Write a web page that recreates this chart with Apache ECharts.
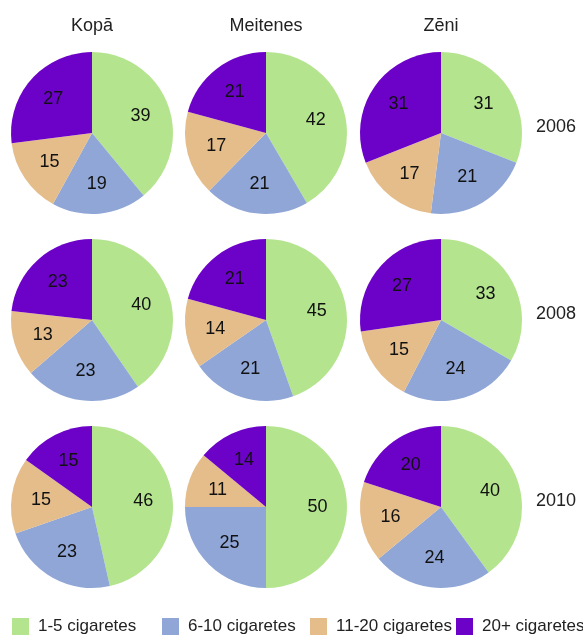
<!DOCTYPE html>
<html>
<head>
<meta charset="utf-8">
<script src="https://cdn.jsdelivr.net/npm/echarts@6/dist/echarts.min.js"></script>
<style>
html, body { margin: 0; padding: 0; background: #fff; }
#main { width: 583px; height: 637px; }
</style>
</head>
<body>
<div id="main"></div>
<script>
var groups = ['Kopā', 'Meitenes', 'Zēni'];
var years = ['2006', '2008', '2010'];
var categories = ['1-5 cigaretes', '6-10 cigaretes', '11-20 cigaretes', '20+ cigaretes'];

// values per group, one row per year, in category order
var kopa     = [[39, 19, 15, 27], [40, 23, 13, 23], [46, 23, 15, 15]];
var meitenes = [[42, 21, 17, 21], [45, 21, 14, 21], [50, 25, 11, 14]];
var zeni     = [[31, 21, 17, 31], [33, 24, 15, 27], [40, 24, 16, 20]];

var values = [kopa, meitenes, zeni];
var colors = ['#b4e48e', '#8fa6d6', '#e4bd8b', '#6c02c8'];

var FONT = '"Liberation Sans", Arial, sans-serif';
var FS = 18;
var colX = [92, 266, 441];
var rowY = [133, 320, 507];
var R = 81;

var chart = echarts.init(document.getElementById('main'));

var series = [];
var titles = [];

for (var g = 0; g < groups.length; g++) {
    titles.push({
        text: groups[g], left: colX[g], top: 17, padding: 0, textAlign: 'center',
        textStyle: { fontFamily: FONT, fontSize: FS, fontWeight: 'normal', color: '#222' }
    });
    for (var y = 0; y < years.length; y++) {
        var d = [];
        for (var c = 0; c < categories.length; c++) {
            d.push({ name: categories[c], value: values[g][y][c] });
        }
        // the slices
        series.push({
            type: 'pie', silent: true, animation: false,
            center: [colX[g], rowY[y]], radius: R,
            startAngle: 90, clockwise: true,
            label: { show: false }, labelLine: { show: false },
            itemStyle: { borderWidth: 0 },
            data: d
        });
        // labels only, ring pushes text further out
        series.push({
            type: 'pie', silent: true, animation: false, legendHoverLink: false,
            center: [colX[g], rowY[y]], radius: [16, R],
            startAngle: 90, clockwise: true,
            itemStyle: { color: 'rgba(0,0,0,0)', borderWidth: 0 },
            label: {
                show: true, position: 'inside', color: '#111',
                fontFamily: FONT, fontSize: FS, formatter: '{c}'
            },
            labelLine: { show: false },
            data: d.map(function (o) { return { name: o.name + ' ', value: o.value }; })
        });
    }
}

for (var y = 0; y < years.length; y++) {
    titles.push({
        text: years[y], left: 536, top: rowY[y] - 15, padding: 0,
        textStyle: { fontFamily: FONT, fontSize: FS, fontWeight: 'normal', color: '#222' }
    });
}

var legendLeft = [12, 162, 310, 456];
var legends = categories.map(function (c, i) {
    return {
        data: [c], left: legendLeft[i], top: 618, padding: 0,
        itemWidth: 17, itemHeight: 17, itemGap: 0,
        icon: 'rect', selectedMode: false,
        textStyle: { fontFamily: FONT, fontSize: 17, color: '#222', padding: [0, 0, 0, 4] }
    };
});

chart.setOption({
    color: colors,
    title: titles,
    legend: legends,
    series: series
});
</script>
</body>
</html>
